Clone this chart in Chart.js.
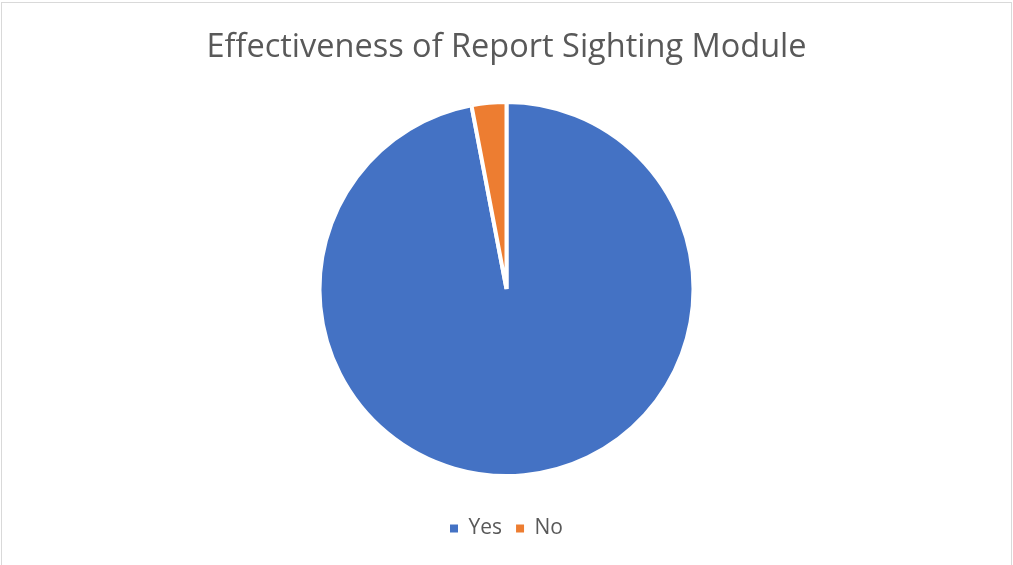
<!DOCTYPE html>
<html>
<head>
<meta charset="utf-8">
<script src="https://cdn.jsdelivr.net/npm/chart.js@4"></script>
<style>
  html, body { margin: 0; padding: 0; background: #fff; overflow: hidden; }
  #frame { position: absolute; left: 1px; top: 2px; width: 1009px; height: 600px; border: 1px solid #d9d9d9; }
  #wrap { position: absolute; left: 0; top: 0; width: 1013px; height: 565px; }
</style>
</head>
<body>
<div id="frame"></div>
<div id="wrap"><canvas id="pie"></canvas></div>
<script>
const labels = ['Yes', 'No'];
const responses = [97, 3];
const colors = ['#4472C4', '#ED7D31'];

const defaultLabels = Chart.overrides.doughnut.plugins.legend.labels.generateLabels;

const ctx = document.getElementById('pie').getContext('2d');
new Chart(ctx, {
  type: 'pie',
  data: {
    labels: labels,
    datasets: [{
      data: responses,
      backgroundColor: colors,
      borderColor: '#ffffff',
      borderWidth: 4
    }]
  },
  options: {
    responsive: true,
    maintainAspectRatio: false,
    animation: false,
    layout: { padding: { top: 0, bottom: 16 } },
    plugins: {
      title: {
        display: true,
        text: 'Effectiveness of Report Sighting Module',
        color: '#595959',
        font: { family: 'Open Sans', size: 32.5, weight: 'normal' },
        padding: { top: 28, bottom: 33 }
      },
      // empty subtitle used only as a gap between the pie and the legend
      subtitle: {
        display: true,
        position: 'bottom',
        weight: 500,
        text: '',
        font: { size: 10 },
        padding: { top: 0, bottom: 14 }
      },
      legend: {
        position: 'bottom',
        labels: {
          color: '#595959',
          font: { family: 'Open Sans', size: 21 },
          boxWidth: 8,
          boxHeight: 8,
          padding: 14,
          generateLabels: (chart) => defaultLabels(chart).map(item => {
            item.lineWidth = 0;
            return item;
          })
        }
      },
      tooltip: { enabled: false }
    }
  }
});
</script>
</body>
</html>
